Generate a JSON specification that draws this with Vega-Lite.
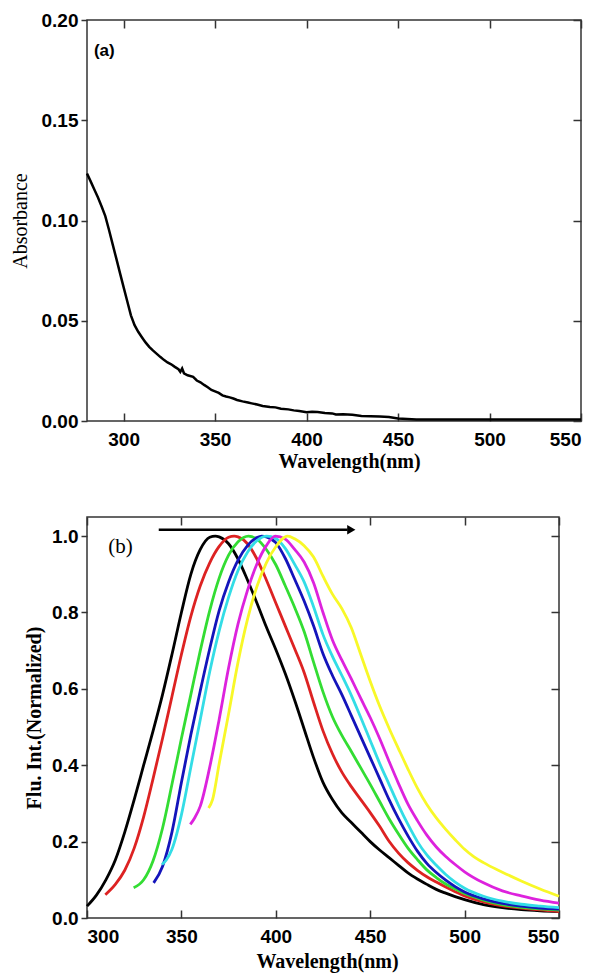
{
  "$schema": "https://vega.github.io/schema/vega-lite/v6.json",
  "padding": {"left": 9, "top": 10, "right": 2, "bottom": 2},
  "spacing": 43,
  "config": {
    "view": {"stroke": "#333333", "strokeWidth": 1.5},
    "axis": {
      "domain": false, "grid": false,
      "labelFont": "Liberation Sans", "labelFontWeight": "bold", "labelFontSize": 19, "labelColor": "#000000",
      "tickColor": "#333333", "tickWidth": 1.5,
      "titleFont": "Liberation Serif", "titleFontSize": 20, "titleFontWeight": "bold", "titleColor": "#000000"
    }
  },
  "datasets": {
    "abs": [
      {"w":280,"a":0.1234},{"w":282,"a":0.1195},{"w":284,"a":0.1155},{"w":286,"a":0.1115},{"w":288,"a":0.107},
      {"w":290,"a":0.1022},{"w":292,"a":0.0954},{"w":294,"a":0.0882},{"w":296,"a":0.0811},{"w":298,"a":0.0739},
      {"w":300,"a":0.0668},{"w":302,"a":0.0597},{"w":304,"a":0.0527},{"w":306,"a":0.0478},{"w":308,"a":0.0445},
      {"w":310,"a":0.0418},{"w":312,"a":0.0392},{"w":314,"a":0.037},{"w":316,"a":0.0352},{"w":318,"a":0.0336},
      {"w":320,"a":0.032},{"w":322,"a":0.0305},{"w":324,"a":0.0292},{"w":326,"a":0.0283},{"w":328,"a":0.027},
      {"w":330,"a":0.0258},{"w":331,"a":0.0245},{"w":332,"a":0.0262},{"w":333,"a":0.0238},{"w":335,"a":0.0228},
      {"w":338,"a":0.022},{"w":340,"a":0.0202},{"w":342,"a":0.0193},{"w":344,"a":0.018},{"w":346,"a":0.0168},
      {"w":348,"a":0.0155},{"w":350,"a":0.0148},{"w":352,"a":0.014},{"w":354,"a":0.0128},{"w":356,"a":0.0122},
      {"w":358,"a":0.0118},{"w":360,"a":0.0112},{"w":362,"a":0.0105},{"w":365,"a":0.0098},{"w":368,"a":0.0092},
      {"w":370,"a":0.0088},{"w":373,"a":0.0082},{"w":376,"a":0.0075},{"w":380,"a":0.007},{"w":383,"a":0.0068},
      {"w":386,"a":0.0061},{"w":390,"a":0.0058},{"w":393,"a":0.0053},{"w":396,"a":0.005},{"w":400,"a":0.0044},
      {"w":403,"a":0.0046},{"w":406,"a":0.0045},{"w":410,"a":0.004},{"w":414,"a":0.0038},{"w":416,"a":0.0033},
      {"w":420,"a":0.0034},{"w":425,"a":0.0031},{"w":430,"a":0.0025},{"w":435,"a":0.0024},{"w":440,"a":0.0022},
      {"w":445,"a":0.002},{"w":450,"a":0.0012},{"w":460,"a":0.0008},{"w":470,"a":0.0008},{"w":480,"a":0.0007},
      {"w":490,"a":0.0008},{"w":500,"a":0.0008},{"w":510,"a":0.0007},{"w":520,"a":0.0007},{"w":530,"a":0.0007},
      {"w":540,"a":0.0007},{"w":550,"a":0.0007}
    ],
    "flu": [
      {"s":"k","w":300,"f":0.031},{"s":"k","w":305,"f":0.06},{"s":"k","w":310,"f":0.1},{"s":"k","w":315,"f":0.152},{"s":"k","w":320,"f":0.225},{"s":"k","w":325,"f":0.31},{"s":"k","w":330,"f":0.4},{"s":"k","w":335,"f":0.49},{"s":"k","w":340,"f":0.585},{"s":"k","w":345,"f":0.69},{"s":"k","w":350,"f":0.8},{"s":"k","w":355,"f":0.9},{"s":"k","w":360,"f":0.965},{"s":"k","w":365,"f":0.997},{"s":"k","w":368,"f":1.0},{"s":"k","w":370,"f":0.998},{"s":"k","w":375,"f":0.98},{"s":"k","w":380,"f":0.94},{"s":"k","w":385,"f":0.885},{"s":"k","w":390,"f":0.825},{"s":"k","w":395,"f":0.762},{"s":"k","w":400,"f":0.703},{"s":"k","w":405,"f":0.64},{"s":"k","w":410,"f":0.57},{"s":"k","w":415,"f":0.495},{"s":"k","w":420,"f":0.42},{"s":"k","w":425,"f":0.355},{"s":"k","w":430,"f":0.31},{"s":"k","w":435,"f":0.275},{"s":"k","w":440,"f":0.25},{"s":"k","w":445,"f":0.225},{"s":"k","w":450,"f":0.2},{"s":"k","w":455,"f":0.178},{"s":"k","w":460,"f":0.158},{"s":"k","w":465,"f":0.138},{"s":"k","w":470,"f":0.118},{"s":"k","w":475,"f":0.102},{"s":"k","w":480,"f":0.088},{"s":"k","w":485,"f":0.075},{"s":"k","w":490,"f":0.065},{"s":"k","w":495,"f":0.056},{"s":"k","w":500,"f":0.048},{"s":"k","w":510,"f":0.035},{"s":"k","w":520,"f":0.027},{"s":"k","w":530,"f":0.022},{"s":"k","w":540,"f":0.019},{"s":"k","w":550,"f":0.017},
      {"s":"r","w":309.7,"f":0.061},{"s":"r","w":315,"f":0.088},{"s":"r","w":320,"f":0.125},{"s":"r","w":325,"f":0.183},{"s":"r","w":330,"f":0.265},{"s":"r","w":335,"f":0.365},{"s":"r","w":340,"f":0.47},{"s":"r","w":345,"f":0.58},{"s":"r","w":350,"f":0.69},{"s":"r","w":355,"f":0.79},{"s":"r","w":360,"f":0.87},{"s":"r","w":365,"f":0.93},{"s":"r","w":370,"f":0.973},{"s":"r","w":375,"f":0.997},{"s":"r","w":378,"f":1.0},{"s":"r","w":380,"f":0.998},{"s":"r","w":385,"f":0.98},{"s":"r","w":390,"f":0.94},{"s":"r","w":395,"f":0.885},{"s":"r","w":400,"f":0.825},{"s":"r","w":405,"f":0.765},{"s":"r","w":410,"f":0.705},{"s":"r","w":415,"f":0.643},{"s":"r","w":420,"f":0.565},{"s":"r","w":425,"f":0.49},{"s":"r","w":430,"f":0.43},{"s":"r","w":435,"f":0.382},{"s":"r","w":440,"f":0.344},{"s":"r","w":445,"f":0.31},{"s":"r","w":450,"f":0.276},{"s":"r","w":455,"f":0.24},{"s":"r","w":460,"f":0.201},{"s":"r","w":465,"f":0.17},{"s":"r","w":470,"f":0.145},{"s":"r","w":475,"f":0.125},{"s":"r","w":480,"f":0.108},{"s":"r","w":485,"f":0.094},{"s":"r","w":490,"f":0.081},{"s":"r","w":495,"f":0.069},{"s":"r","w":500,"f":0.058},{"s":"r","w":510,"f":0.042},{"s":"r","w":520,"f":0.032},{"s":"r","w":530,"f":0.026},{"s":"r","w":540,"f":0.021},{"s":"r","w":550,"f":0.017},
      {"s":"g","w":324.7,"f":0.079},{"s":"g","w":330,"f":0.1},{"s":"g","w":335,"f":0.15},{"s":"g","w":340,"f":0.235},{"s":"g","w":345,"f":0.35},{"s":"g","w":350,"f":0.47},{"s":"g","w":355,"f":0.585},{"s":"g","w":360,"f":0.7},{"s":"g","w":365,"f":0.805},{"s":"g","w":370,"f":0.89},{"s":"g","w":375,"f":0.95},{"s":"g","w":380,"f":0.985},{"s":"g","w":385.5,"f":1.0},{"s":"g","w":390,"f":0.992},{"s":"g","w":395,"f":0.965},{"s":"g","w":400,"f":0.925},{"s":"g","w":405,"f":0.87},{"s":"g","w":410,"f":0.813},{"s":"g","w":415,"f":0.75},{"s":"g","w":420,"f":0.67},{"s":"g","w":425,"f":0.592},{"s":"g","w":430,"f":0.527},{"s":"g","w":435,"f":0.478},{"s":"g","w":440,"f":0.436},{"s":"g","w":445,"f":0.393},{"s":"g","w":450,"f":0.35},{"s":"g","w":455,"f":0.305},{"s":"g","w":460,"f":0.26},{"s":"g","w":465,"f":0.22},{"s":"g","w":470,"f":0.183},{"s":"g","w":475,"f":0.153},{"s":"g","w":480,"f":0.126},{"s":"g","w":485,"f":0.106},{"s":"g","w":490,"f":0.089},{"s":"g","w":495,"f":0.076},{"s":"g","w":500,"f":0.064},{"s":"g","w":510,"f":0.047},{"s":"g","w":520,"f":0.035},{"s":"g","w":530,"f":0.028},{"s":"g","w":540,"f":0.024},{"s":"g","w":550,"f":0.021},
      {"s":"b","w":335.3,"f":0.092},{"s":"b","w":340,"f":0.135},{"s":"b","w":345,"f":0.225},{"s":"b","w":350,"f":0.355},{"s":"b","w":355,"f":0.48},{"s":"b","w":360,"f":0.595},{"s":"b","w":365,"f":0.705},{"s":"b","w":370,"f":0.805},{"s":"b","w":375,"f":0.88},{"s":"b","w":380,"f":0.937},{"s":"b","w":385,"f":0.975},{"s":"b","w":390,"f":0.996},{"s":"b","w":392.6,"f":1.0},{"s":"b","w":395,"f":0.998},{"s":"b","w":400,"f":0.983},{"s":"b","w":405,"f":0.942},{"s":"b","w":410,"f":0.887},{"s":"b","w":415,"f":0.83},{"s":"b","w":420,"f":0.765},{"s":"b","w":425,"f":0.692},{"s":"b","w":430,"f":0.635},{"s":"b","w":435,"f":0.585},{"s":"b","w":440,"f":0.53},{"s":"b","w":445,"f":0.475},{"s":"b","w":450,"f":0.42},{"s":"b","w":455,"f":0.365},{"s":"b","w":460,"f":0.31},{"s":"b","w":465,"f":0.26},{"s":"b","w":470,"f":0.215},{"s":"b","w":475,"f":0.175},{"s":"b","w":480,"f":0.143},{"s":"b","w":485,"f":0.119},{"s":"b","w":490,"f":0.099},{"s":"b","w":495,"f":0.082},{"s":"b","w":500,"f":0.068},{"s":"b","w":510,"f":0.05},{"s":"b","w":520,"f":0.038},{"s":"b","w":530,"f":0.031},{"s":"b","w":540,"f":0.026},{"s":"b","w":550,"f":0.023},
      {"s":"c","w":339.7,"f":0.14},{"s":"c","w":342,"f":0.152},{"s":"c","w":345,"f":0.18},{"s":"c","w":350,"f":0.27},{"s":"c","w":355,"f":0.395},{"s":"c","w":360,"f":0.52},{"s":"c","w":365,"f":0.645},{"s":"c","w":370,"f":0.752},{"s":"c","w":375,"f":0.84},{"s":"c","w":380,"f":0.91},{"s":"c","w":385,"f":0.958},{"s":"c","w":390,"f":0.988},{"s":"c","w":395.2,"f":1.0},{"s":"c","w":400,"f":0.994},{"s":"c","w":405,"f":0.968},{"s":"c","w":410,"f":0.926},{"s":"c","w":415,"f":0.88},{"s":"c","w":420,"f":0.815},{"s":"c","w":425,"f":0.742},{"s":"c","w":430,"f":0.685},{"s":"c","w":435,"f":0.635},{"s":"c","w":440,"f":0.583},{"s":"c","w":445,"f":0.525},{"s":"c","w":450,"f":0.465},{"s":"c","w":455,"f":0.405},{"s":"c","w":460,"f":0.35},{"s":"c","w":465,"f":0.295},{"s":"c","w":470,"f":0.245},{"s":"c","w":475,"f":0.2},{"s":"c","w":480,"f":0.165},{"s":"c","w":485,"f":0.138},{"s":"c","w":490,"f":0.114},{"s":"c","w":495,"f":0.094},{"s":"c","w":500,"f":0.078},{"s":"c","w":510,"f":0.057},{"s":"c","w":520,"f":0.044},{"s":"c","w":530,"f":0.036},{"s":"c","w":540,"f":0.031},{"s":"c","w":550,"f":0.027},
      {"s":"m","w":354.7,"f":0.245},{"s":"m","w":357,"f":0.262},{"s":"m","w":360,"f":0.293},{"s":"m","w":365,"f":0.395},{"s":"m","w":370,"f":0.52},{"s":"m","w":375,"f":0.655},{"s":"m","w":380,"f":0.77},{"s":"m","w":385,"f":0.858},{"s":"m","w":390,"f":0.927},{"s":"m","w":395,"f":0.975},{"s":"m","w":399.7,"f":1.0},{"s":"m","w":405,"f":0.992},{"s":"m","w":410,"f":0.965},{"s":"m","w":415,"f":0.932},{"s":"m","w":420,"f":0.878},{"s":"m","w":425,"f":0.8},{"s":"m","w":430,"f":0.728},{"s":"m","w":435,"f":0.675},{"s":"m","w":440,"f":0.626},{"s":"m","w":445,"f":0.575},{"s":"m","w":450,"f":0.525},{"s":"m","w":455,"f":0.47},{"s":"m","w":460,"f":0.41},{"s":"m","w":465,"f":0.352},{"s":"m","w":470,"f":0.298},{"s":"m","w":475,"f":0.255},{"s":"m","w":480,"f":0.217},{"s":"m","w":485,"f":0.186},{"s":"m","w":490,"f":0.161},{"s":"m","w":495,"f":0.14},{"s":"m","w":500,"f":0.121},{"s":"m","w":510,"f":0.092},{"s":"m","w":520,"f":0.071},{"s":"m","w":530,"f":0.058},{"s":"m","w":540,"f":0.047},{"s":"m","w":550,"f":0.039},
      {"s":"y","w":364.4,"f":0.288},{"s":"y","w":366.5,"f":0.31},{"s":"y","w":370,"f":0.404},{"s":"y","w":375,"f":0.535},{"s":"y","w":380,"f":0.67},{"s":"y","w":385,"f":0.782},{"s":"y","w":390,"f":0.868},{"s":"y","w":395,"f":0.93},{"s":"y","w":400,"f":0.972},{"s":"y","w":406.2,"f":1.0},{"s":"y","w":410,"f":0.993},{"s":"y","w":415,"f":0.975},{"s":"y","w":420,"f":0.945},{"s":"y","w":425,"f":0.895},{"s":"y","w":430,"f":0.848},{"s":"y","w":435,"f":0.81},{"s":"y","w":440,"f":0.76},{"s":"y","w":445,"f":0.69},{"s":"y","w":450,"f":0.62},{"s":"y","w":455,"f":0.555},{"s":"y","w":460,"f":0.497},{"s":"y","w":465,"f":0.443},{"s":"y","w":470,"f":0.39},{"s":"y","w":475,"f":0.34},{"s":"y","w":480,"f":0.297},{"s":"y","w":485,"f":0.262},{"s":"y","w":490,"f":0.232},{"s":"y","w":495,"f":0.205},{"s":"y","w":500,"f":0.18},{"s":"y","w":505,"f":0.16},{"s":"y","w":510,"f":0.145},{"s":"y","w":520,"f":0.12},{"s":"y","w":530,"f":0.097},{"s":"y","w":540,"f":0.076},{"s":"y","w":550,"f":0.057}
    ]
  },
  "vconcat": [
    {
      "width": 494,
      "height": 401,
      "data": {"name": "abs"},
      "layer": [
        {
          "mark": {"type": "line", "color": "#000000", "strokeWidth": 2.5},
          "encoding": {
            "x": {"field": "w", "type": "quantitative", "scale": {"domain": [280, 550], "nice": false, "zero": false},
              "axis": {"orient": "bottom", "values": [300, 350, 400, 450, 500, 550], "tickSize": -8, "labelPadding": 17, "title": "Wavelength(nm)", "titlePadding": 2, "titleX": 262}},
            "y": {"field": "a", "type": "quantitative", "scale": {"domain": [0, 0.2], "nice": false},
              "axis": {"orient": "left", "values": [0, 0.05, 0.1, 0.15, 0.2], "format": ".2f", "tickSize": 6, "labelPadding": 3, "title": "Absorbance", "titleFontWeight": "normal", "titlePadding": 11}}
          }
        },
        {
          "mark": {"type": "line", "strokeOpacity": 0},
          "encoding": {
            "x": {"field": "w", "type": "quantitative", "scale": {"domain": [280, 550], "nice": false, "zero": false},
              "axis": {"orient": "top", "values": [300, 350, 400, 450, 500, 550], "tickSize": -8, "labels": false, "title": null}},
            "y": {"field": "a", "type": "quantitative", "scale": {"domain": [0, 0.2], "nice": false},
              "axis": {"orient": "right", "values": [0, 0.05, 0.1, 0.15, 0.2], "tickSize": -8, "labels": false, "title": null}}
          }
        },
        {
          "data": {"values": [{"w": 283.8, "a": 0.1844, "t": "(a)"}]},
          "mark": {"type": "text", "align": "left", "baseline": "middle", "font": "Liberation Sans", "fontWeight": "bold", "fontSize": 17, "color": "#000000"},
          "encoding": {
            "x": {"field": "w", "type": "quantitative", "scale": {"domain": [280, 550], "nice": false, "zero": false}, "axis": null},
            "y": {"field": "a", "type": "quantitative", "scale": {"domain": [0, 0.2], "nice": false}, "axis": null},
            "text": {"field": "t"}
          }
        }
      ],
      "resolve": {"axis": {"x": "independent", "y": "independent"}}
    },
    {
      "width": 472,
      "height": 401,
      "layer": [
        {
          "data": {"name": "flu"},
          "mark": {"type": "line", "strokeWidth": 2.8, "interpolate": "monotone"},
          "encoding": {
            "x": {"field": "w", "type": "quantitative", "scale": {"domain": [300, 550], "nice": false, "zero": false},
              "axis": {"orient": "bottom", "values": [300, 350, 400, 450, 500, 550], "tickSize": -8, "labelPadding": 17, "title": "Wavelength(nm)", "titlePadding": 5, "titleX": 240}},
            "y": {"field": "f", "type": "quantitative", "scale": {"domain": [0, 1.05], "nice": false},
              "axis": {"orient": "left", "values": [0, 0.2, 0.4, 0.6, 0.8, 1.0], "format": ".1f", "tickSize": 6, "labelPadding": 3, "title": "Flu. Int.(Normalized)", "titlePadding": 7}},
            "color": {"field": "s", "type": "nominal", "legend": null,
              "scale": {"domain": ["k", "r", "g", "b", "c", "m", "y"], "range": ["#000000", "#dd2222", "#33dd33", "#1414bb", "#33dde6", "#dd22dd", "#f8f828"]}}
          }
        },
        {
          "data": {"name": "flu"},
          "mark": {"type": "line", "strokeOpacity": 0},
          "encoding": {
            "x": {"field": "w", "type": "quantitative", "scale": {"domain": [300, 550], "nice": false, "zero": false},
              "axis": {"orient": "top", "values": [300, 350, 400, 450, 500, 550], "tickSize": -8, "labels": false, "title": null}},
            "y": {"field": "f", "type": "quantitative", "scale": {"domain": [0, 1.05], "nice": false},
              "axis": {"orient": "right", "values": [0, 0.2, 0.4, 0.6, 0.8, 1.0], "tickSize": -8, "labels": false, "title": null}}
          }
        },
        {
          "data": {"values": [{"w1": 338, "w2": 438, "f": 1.0165}]},
          "mark": {"type": "rule", "color": "#000000", "strokeWidth": 2.5},
          "encoding": {
            "x": {"field": "w1", "type": "quantitative", "scale": {"domain": [300, 550], "nice": false, "zero": false}, "axis": null},
            "x2": {"field": "w2"},
            "y": {"field": "f", "type": "quantitative", "scale": {"domain": [0, 1.05], "nice": false}, "axis": null}
          }
        },
        {
          "data": {"values": [{"w": 440, "f": 1.0165}]},
          "mark": {"type": "point", "shape": "triangle-right", "filled": true, "color": "#000000", "size": 90, "opacity": 1},
          "encoding": {
            "x": {"field": "w", "type": "quantitative", "scale": {"domain": [300, 550], "nice": false, "zero": false}, "axis": null},
            "y": {"field": "f", "type": "quantitative", "scale": {"domain": [0, 1.05], "nice": false}, "axis": null}
          }
        },
        {
          "data": {"values": [{"w": 317.8, "f": 0.971, "t": "(b)"}]},
          "mark": {"type": "text", "align": "center", "baseline": "middle", "font": "Liberation Serif", "fontSize": 21, "color": "#000000"},
          "encoding": {
            "x": {"field": "w", "type": "quantitative", "scale": {"domain": [300, 550], "nice": false, "zero": false}, "axis": null},
            "y": {"field": "f", "type": "quantitative", "scale": {"domain": [0, 1.05], "nice": false}, "axis": null},
            "text": {"field": "t"}
          }
        }
      ],
      "resolve": {"axis": {"x": "independent", "y": "independent"}}
    }
  ]
}
